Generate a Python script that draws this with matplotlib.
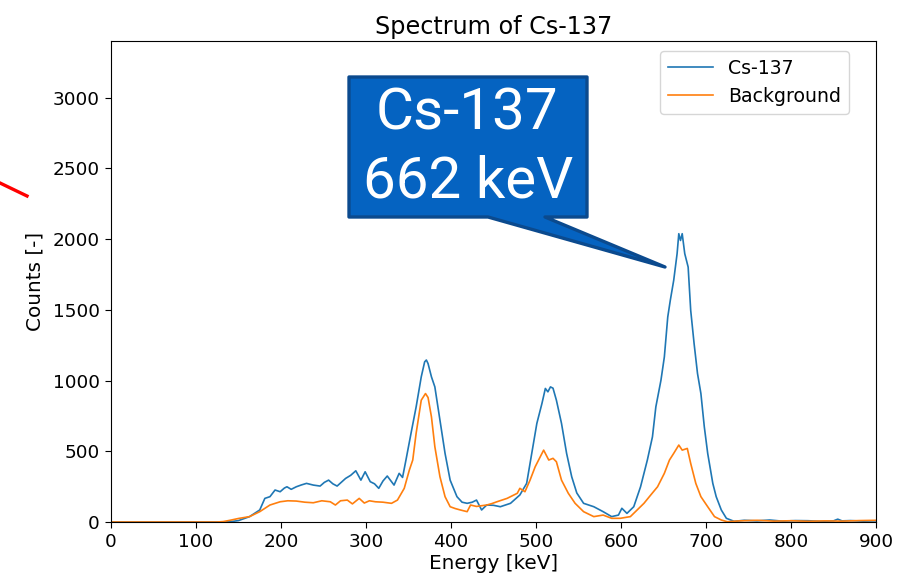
import matplotlib
matplotlib.use("Agg")
import matplotlib.pyplot as plt
from matplotlib.patches import Polygon
from matplotlib.lines import Line2D

# Energy grid (keV) and counts
cs_energy = [0, 100, 130, 140, 150, 163, 175, 181, 187, 193, 199, 204, 207, 212, 218, 224, 230,
             238, 246, 251, 256, 261, 266, 276, 282, 288, 294, 299, 305, 310, 315, 320, 325, 333,
             339, 343, 347, 353, 359, 365, 369, 371, 373, 377, 381, 387, 393, 399, 407, 413, 419,
             425, 430, 436, 442, 450, 458, 470, 481, 489, 495, 501, 507, 511, 514, 517, 520, 524,
             530, 536, 542, 548, 556, 562, 568, 579, 589, 597, 601, 607, 615, 623, 631, 637, 641,
             647, 651, 655, 658, 662, 666, 668, 670, 672, 675, 679, 682, 686, 690, 694, 698, 702,
             708, 712, 718, 724, 733, 745, 760, 775, 790, 805, 820, 835, 850, 855, 860, 870, 885, 900]
cs_counts = [0, 0, 0, 2, 10, 38, 85, 167, 179, 226, 214, 240, 249, 231, 249, 262, 273,
             261, 254, 280, 296, 270, 254, 308, 330, 362, 296, 355, 285, 270, 238, 290, 325, 261,
             344, 315, 438, 628, 814, 1026, 1132, 1145, 1120, 1026, 955, 720, 485, 296, 179, 140, 132,
             140, 155, 85, 120, 118, 108, 132, 191, 273, 485, 697, 838, 944, 920, 955, 946, 861,
             697, 485, 320, 205, 132, 120, 108, 73, 38, 49, 97, 61, 108, 249, 438, 602, 814,
             1002, 1167, 1449, 1567, 1708, 1897, 2038, 1990, 2038, 1897, 1802, 1496, 1261, 1050, 908, 673, 485,
             273, 179, 85, 26, 5, 12, 8, 14, 6, 10, 9, 5, 8, 20, 8, 10, 6, 8]

bg_energy = [0, 100, 125, 132, 140, 150, 163, 175, 187, 199, 208, 218, 228, 238, 248, 258, 264,
             270, 278, 284, 292, 298, 304, 311, 320, 330, 337, 345, 351, 355, 359, 365, 370, 373,
             377, 381, 387, 393, 399, 405, 411, 419, 423, 430, 442, 448, 454, 466, 478, 481, 487,
             493, 499, 505, 509, 515, 520, 524, 530, 538, 546, 556, 568, 579, 589, 599, 611, 619,
             627, 635, 643, 651, 657, 662, 668, 672, 678, 682, 688, 694, 702, 710, 718, 725, 740,
             760, 780, 800, 820, 840, 860, 880, 900]
bg_counts = [0, 0, 0, 3, 12, 25, 38, 73, 120, 143, 150, 148, 140, 136, 150, 143, 120,
             150, 155, 128, 167, 134, 150, 143, 140, 132, 155, 238, 367, 438, 628, 861, 908, 880,
             743, 532, 320, 179, 108, 95, 85, 73, 120, 110, 120, 130, 143, 167, 203, 238, 214,
             296, 390, 461, 508, 438, 450, 426, 296, 203, 132, 73, 38, 49, 26, 26, 38, 85,
             132, 191, 249, 344, 438, 485, 544, 508, 520, 414, 273, 179, 108, 38, 14, 2, 8,
             12, 6, 9, 5, 8, 6, 10, 12]

x_ticks = [0, 100, 200, 300, 400, 500, 600, 700, 800, 900]
y_ticks = [0, 500, 1000, 1500, 2000, 2500, 3000]

W, H = 897, 583
fig = plt.figure(figsize=(W / 100, H / 100), dpi=100)
ax = fig.add_axes([111 / W, 1 - 522 / H, (876 - 111) / W, (522 - 41) / H])

ax.plot(cs_energy, cs_counts, color="#1f77b4", lw=1.2, label="Cs-137")
ax.plot(bg_energy, bg_counts, color="#ff7f0e", lw=1.2, label="Background")
ax.set_xlim(0, 900)
ax.set_ylim(0, 3400)
ax.set_xticks(x_ticks)
ax.set_yticks(y_ticks)
ax.tick_params(labelsize=13.3, length=4.5)
ax.set_xlabel("Energy [keV]", fontsize=14.4, labelpad=2)
ax.set_ylabel("Counts [-]", fontsize=14.4, labelpad=6)
ax.set_title("Spectrum of Cs-137", fontsize=17.2, pad=5)
ax.legend(loc="upper right", fontsize=13.6, handlelength=2.4,
          bbox_to_anchor=(849 / W, 1 - 51 / H), bbox_transform=fig.transFigure,
          borderaxespad=0)

# Callout shape (pixel coordinates of the picture, y downward)
def fc(px, py):
    return (px / W, 1 - py / H)

pts = [(349, 77), (587, 77), (587, 217), (545, 217), (665, 267), (488, 217), (349, 217)]
poly = Polygon([fc(*p) for p in pts], closed=True, transform=fig.transFigure,
               facecolor="#0563C1", edgecolor="#0B4A8E", lw=2.4, joinstyle="round", zorder=10)
fig.add_artist(poly)
fig.text(*fc(467, 114), "Cs-137", color="white", fontsize=42, family="Roboto",
         fontweight="normal", ha="center", va="center", zorder=11)
fig.text(*fc(468, 182), "662 keV", color="white", fontsize=42, family="Roboto",
         fontweight="normal", ha="center", va="center", zorder=11)

# red stroke at the left edge
fig.add_artist(Line2D([0 / W, 27 / W], [1 - 183 / H, 1 - 196 / H], color="red", lw=2.4,
                      transform=fig.transFigure))

fig.savefig("out.png", dpi=100)
